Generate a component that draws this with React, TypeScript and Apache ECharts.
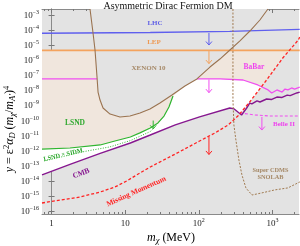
import React, { useEffect, useRef } from "react";
import * as echarts from "echarts";

// All values are [log10(m_chi / MeV), log10(y)]
const X_RANGE = [-0.13, 3.36];
const Y_RANGE = [-16.2, -2.6];
const X_MAJOR = [0, 1, 2, 3];
const X_TICK_LABELS = ["1", "10", "10^2", "10^3"];
const Y_MAJOR = [-16, -15, -14, -13, -12, -11, -10, -9, -8, -7, -6, -5, -4, -3];

const lhc = [[-0.13, -4.21], [1.34, -4.16], [2.42, -4.09], [3.37, -3.95]];
const lep = [[-0.13, -5.35], [3.37, -5.35]];
const babarLeft = [[-0.13, -7.24], [0.619, -7.24]];
const babarRight = [[1.974, -7.24], [2.29, -7.24], [2.6, -7.31], [2.8, -7.64], [2.94, -7.97], [2.99, -8.17], [3.06, -7.97], [3.13, -8.11], [3.17, -7.91], [3.21, -7.97], [3.26, -7.84], [3.3, -7.91], [3.37, -7.78]];
const belle2 = [[2.558, -9.5], [2.76, -9.63], [2.97, -9.7], [3.37, -9.7]];
const cmb = [[-0.13, -13.61], [0.25, -12.91], [0.66, -12.18], [1.07, -11.49], [1.34, -10.96], [1.68, -10.29], [2.01, -9.76], [2.42, -9.17], [2.48, -9.23], [2.58, -9.63], [2.65, -9.17], [2.69, -8.84], [2.72, -8.9], [2.79, -8.7], [2.83, -8.77], [2.92, -8.57], [2.99, -8.6], [3.06, -8.44], [3.13, -8.47], [3.2, -8.31], [3.24, -8.35], [3.33, -8.17], [3.37, -8.11]];
const lsnd = [[-0.13, -11.89], [0.25, -11.82], [0.66, -11.62], [0.86, -11.36], [1.07, -11.09], [1.2, -10.82], [1.34, -10.49], [1.445, -10.16], [1.527, -9.7], [1.594, -9.1], [1.649, -8.37]];
const lsndSidm = [[-0.1, -12.68], [0.45, -12.05], [0.79, -11.75], [1.07, -11.33], [1.34, -10.73], [1.4, -10.46]];
const missingMomentum = [[-0.13, -15.47], [0.12, -15.27], [0.39, -15.07], [0.66, -14.74], [0.86, -14.41], [1.02, -14.01], [1.2, -13.48], [1.34, -13.08], [1.68, -12.22], [2.01, -11.36], [2.22, -10.82], [2.4, -10.29], [2.53, -9.7], [2.69, -8.77], [2.92, -7.31], [3.14, -5.85], [3.35, -4.66], [3.37, -4.46]];
const xenon10 = [[0.522, -2.6], [0.563, -4.19], [0.59, -5.32], [0.617, -7.11], [0.631, -8.11], [0.658, -8.64], [0.699, -9.17], [0.794, -9.57], [0.929, -9.76], [1.065, -9.7], [1.201, -9.5], [1.336, -9.23], [1.472, -8.84], [1.635, -8.31], [1.811, -7.71], [1.974, -7.24], [2.151, -6.45], [2.286, -5.92], [2.422, -5.32], [2.558, -4.72], [2.693, -4.06], [2.829, -3.33], [2.938, -2.6]];
const superCdms = [[2.463, -2.6], [2.463, -8.64], [2.476, -10.29], [2.503, -11.29], [2.544, -12.62], [2.585, -13.61], [2.639, -14.47], [2.721, -14.94], [2.856, -14.8], [3.033, -14.6], [3.209, -14.47], [3.372, -14.07]];

// region boundaries
const allowedTop = [[2.86, -7.74], [2.8, -7.64], [2.6, -7.31], [2.29, -7.24], [1.974, -7.24], [1.811, -7.71], [1.649, -8.37], [1.594, -9.1], [1.527, -9.7], [1.445, -10.16], [1.34, -10.49], [1.2, -10.82], [1.07, -11.09], [0.86, -11.36], [0.66, -11.62], [0.25, -11.82], [-0.13, -11.89]];
const allowedBottom = [[-0.13, -13.61], [0.25, -12.91], [0.66, -12.18], [1.07, -11.49], [1.34, -10.96], [1.68, -10.29], [2.01, -9.76], [2.42, -9.17], [2.48, -9.23], [2.558, -9.54], [2.69, -8.77]];
const beigeTop = [[-0.13, -5.35], [3.22, -5.35], [3.14, -5.85], [2.92, -7.31]];

// arrows: [x, yFrom, yTo]
const arrowsBlue = [[2.137, -4.19, -4.99]];
const arrowsOrange = [[2.137, -5.39, -6.22]];
const arrowsMagenta = [[2.137, -7.28, -8.15], [2.856, -9.76, -10.63]];
const arrowsRed = [[2.137, -11.06, -12.25]];
const arrowsGreen = [[1.38, -10.0, -10.55]];

const FONT = '"Liberation Serif", "DejaVu Serif", serif';
const GRAY = "#e3e3e3";
const BEIGE = "#f0e6dd";

function polygonSeries(points: number[][], color: string, z: number) {
  return {
    type: "custom",
    xAxisIndex: 0,
    yAxisIndex: 0,
    silent: true,
    clip: true,
    z,
    data: [points[0]],
    renderItem: (_p: any, api: any) => ({
      type: "polygon",
      shape: { points: points.map((pt) => api.coord(pt)) },
      style: { fill: color, stroke: null },
    }),
  };
}

function lineSeries(data: number[][], color: string, width: number, dash: any, z = 5) {
  return {
    type: "line",
    xAxisIndex: 0,
    yAxisIndex: 0,
    data,
    showSymbol: false,
    symbol: "none",
    silent: true,
    clip: true,
    z,
    lineStyle: { color, width, type: dash || "solid" },
  };
}

function arrowSeries(data: number[][], color: string) {
  return {
    type: "custom",
    xAxisIndex: 0,
    yAxisIndex: 0,
    silent: true,
    z: 7,
    data,
    renderItem: (_p: any, api: any) => {
      const a = api.coord([api.value(0), api.value(1)]);
      const b = api.coord([api.value(0), api.value(2)]);
      return {
        type: "group",
        children: [
          { type: "line", shape: { x1: a[0], y1: a[1], x2: b[0], y2: b[1] }, style: { stroke: color, lineWidth: 1 } },
          {
            type: "polyline",
            shape: { points: [[b[0] - 3, b[1] - 3.5], [b[0], b[1]], [b[0] + 3, b[1] - 3.5]] },
            style: { stroke: color, lineWidth: 1, fill: null },
          },
        ],
      };
    },
  };
}

const minorTicks: number[] = [];
for (let d = -1; d <= 3; d++) {
  for (let k = 2; k <= 9; k++) {
    const v = d + Math.log10(k);
    if (v > X_RANGE[0] && v < X_RANGE[1]) minorTicks.push(v);
  }
}

const tickRich = {
  b: { fontSize: 9, fontFamily: FONT, color: "#222", lineHeight: 12 },
  s: { fontSize: 6, fontFamily: FONT, color: "#222", verticalAlign: "top", lineHeight: 12 },
};

function fmtTick(label: string) {
  const parts = label.split("^");
  return parts.length > 1 ? `{b|${parts[0]}}{s|${parts[1]}}` : `{b|${parts[0]}}`;
}

function textEl(text: string, x: number, y: number, color: string, size: number, rot = 0, bold = true) {
  return {
    type: "text",
    x,
    y,
    rotation: rot,
    silent: true,
    z: 20,
    style: {
      text,
      fill: color,
      fontSize: size,
      fontFamily: FONT,
      fontWeight: bold ? "bold" : "normal",
      align: "center",
      verticalAlign: "middle",
    },
  };
}

export default function App() {
  const ref = useRef<HTMLDivElement>(null);
  useEffect(() => {
    if (!ref.current) return;
    const chart = echarts.init(ref.current, null, { renderer: "svg" });
    const axisLine = { show: true, lineStyle: { color: "#8a8a8a", width: 1 } };
    const baseX = { type: "value", min: X_RANGE[0], max: X_RANGE[1], splitLine: { show: false } };
    const baseY = { type: "value", min: Y_RANGE[0], max: Y_RANGE[1], splitLine: { show: false } };
    const sub = { fontSize: 8.5, fontFamily: FONT, color: "#111", verticalAlign: "bottom", lineHeight: 15 };
    const sup = { fontSize: 8.5, fontFamily: FONT, color: "#111", verticalAlign: "top", lineHeight: 15 };
    const nrm = { fontSize: 12, fontFamily: FONT, color: "#111", lineHeight: 15 };
    const ital = { fontSize: 12, fontFamily: FONT, color: "#111", fontStyle: "italic", lineHeight: 15 };
    const subI = { ...sub, fontStyle: "italic" };
    chart.setOption({
      animation: false,
      grid: { left: 42, right: 1, top: 9, bottom: 32, show: true, backgroundColor: GRAY, borderWidth: 0 },
      xAxis: [
        {
          ...baseX,
          position: "bottom",
          axisLine,
          axisTick: { show: true, inside: true, length: 4, customValues: X_MAJOR, lineStyle: { color: "#777" } },
          axisLabel: {
            show: true,
            margin: 3,
            customValues: X_MAJOR,
            formatter: (v: number) => fmtTick(X_TICK_LABELS[X_MAJOR.indexOf(Math.round(v))] || ""),
            rich: tickRich,
          },
        },
        {
          ...baseX,
          position: "bottom",
          axisLine: { show: false },
          axisTick: { show: true, inside: true, length: 2, customValues: minorTicks, lineStyle: { color: "#777" } },
          axisLabel: { show: false },
        },
        {
          ...baseX,
          position: "top",
          axisLine,
          axisTick: { show: true, inside: true, length: 4, customValues: X_MAJOR, lineStyle: { color: "#777" } },
          axisLabel: { show: false },
        },
        {
          ...baseX,
          position: "top",
          axisLine: { show: false },
          axisTick: { show: true, inside: true, length: 2, customValues: minorTicks, lineStyle: { color: "#777" } },
          axisLabel: { show: false },
        },
      ],
      yAxis: [
        {
          ...baseY,
          position: "left",
          axisLine,
          axisTick: { show: true, inside: true, length: 3, customValues: Y_MAJOR, lineStyle: { color: "#777" } },
          axisLabel: {
            show: true,
            margin: 3,
            customValues: Y_MAJOR,
            formatter: (v: number) => `{b|10}{s|\u2212${Math.abs(Math.round(v))}}`,
            rich: tickRich,
          },
        },
        {
          ...baseY,
          position: "right",
          axisLine,
          axisTick: { show: true, inside: true, length: 3, customValues: Y_MAJOR, lineStyle: { color: "#777" } },
          axisLabel: { show: false },
        },
      ],
      series: [
        polygonSeries([...beigeTop, ...allowedTop], BEIGE, 1),
        polygonSeries([...allowedTop, ...allowedBottom], "#ffffff", 1),
        polygonSeries(xenon10, GRAY, 2),
        lineSeries(lhc, "#5f5fee", 1.3, null),
        lineSeries(lep, "#f4a35e", 1.8, null),
        lineSeries(babarLeft, "#f04ff0", 1.3, null),
        lineSeries(babarRight, "#f04ff0", 1.3, null),
        lineSeries(belle2, "#f04ff0", 1.1, [3, 2]),
        lineSeries(lsnd, "#2fb52f", 1.2, null),
        lineSeries(lsndSidm, "#2fb52f", 1, [1, 1.5]),
        lineSeries(cmb, "#86178f", 1.4, null),
        lineSeries(xenon10, "#9a7350", 1.1, null),
        lineSeries(superCdms, "#a07a50", 1, [2, 1.5]),
        lineSeries(missingMomentum, "#ff2222", 1.3, [3, 2], 6),
        arrowSeries(arrowsBlue, "#5f5fee"),
        arrowSeries(arrowsOrange, "#f4a35e"),
        arrowSeries(arrowsMagenta, "#f04ff0"),
        arrowSeries(arrowsRed, "#ff2222"),
        arrowSeries(arrowsGreen, "#2fb52f"),
      ],
      graphic: [
        textEl("Asymmetric Dirac Fermion DM", 168, 5, "#111", 10, 0, false),
        textEl("LHC", 155, 23, "#5f5fe6", 7),
        textEl("LEP", 154, 42, "#ee9a55", 7),
        textEl("XENON 10", 148.5, 68, "#a58866", 7),
        textEl("BaBar", 254, 66, "#ee44ee", 7.5),
        textEl("LSND", 75, 122, "#2ea82e", 7.5),
        textEl("LSND \u00d7 SIDM", 63, 154, "#2ea82e", 6.3, 0.23),
        textEl("CMB", 81, 173, "#86178f", 7.5, 0.35),
        textEl("Missing Momentum", 136, 191, "#ff2222", 7.5, 0.42),
        textEl("Belle II", 284, 124, "#ee44ee", 7),
        textEl("Super CDMS", 270.5, 169.5, "#a58866", 6.3),
        textEl("SNOLAB", 270.5, 176.5, "#a58866", 6.3),
        {
          type: "text",
          x: 171,
          y: 237,
          silent: true,
          style: {
            text: "{i|m}{si|\u03c7}{n| (MeV)}",
            align: "center",
            verticalAlign: "middle",
            rich: { i: ital, si: subI, n: nrm },
          },
        },
        {
          type: "text",
          x: 9,
          y: 129,
          rotation: Math.PI / 2,
          silent: true,
          style: {
            text: "{i|y}{n| = \u03b5}{p|2}{i|\u03b1}{si|D}{n| (}{i|m}{si|\u03c7}{n|/}{i|m}{si|A'}{n|)}{p|4}",
            align: "center",
            verticalAlign: "middle",
            rich: { i: ital, si: subI, n: nrm, p: sup },
          },
        },
      ],
    });
    return () => chart.dispose();
  }, []);
  return <div ref={ref} style={{ position: "fixed", left: 0, top: 0, width: 300, height: 246 }} />;
}
